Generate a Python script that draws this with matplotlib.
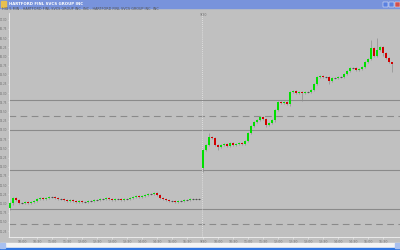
import matplotlib
matplotlib.use("Agg")
import matplotlib.pyplot as plt
from matplotlib.patches import Rectangle

# 5 min style intraday bars, two sessions
day1_open = 11.88
day1_close = [12.01, 12.15, 12.10, 12.01, 12.01, 12.04, 12.01, 12.04, 12.07, 12.12,
              12.15, 12.12, 12.15, 12.18, 12.18, 12.15, 12.12, 12.12, 12.10, 12.07,
              12.10, 12.07, 12.04, 12.07, 12.04, 12.04, 12.07, 12.07, 12.10, 12.10,
              12.12, 12.12, 12.15, 12.12, 12.10, 12.12, 12.12, 12.10, 12.12, 12.12,
              12.15, 12.18, 12.21, 12.18, 12.21, 12.23, 12.26, 12.26, 12.29, 12.23,
              12.15, 12.12, 12.10, 12.07, 12.07, 12.04, 12.07, 12.07, 12.10, 12.10,
              12.12, 12.12, 12.12, 12.12]
day2_open = 12.97
day2_close = [13.46, 13.59, 13.81, 13.78, 13.59, 13.54, 13.59, 13.62, 13.57, 13.65,
              13.59, 13.62, 13.65, 13.62, 13.70, 13.92, 14.11, 14.22, 14.27, 14.35,
              14.30, 14.14, 14.19, 14.27, 14.54, 14.76, 14.73, 14.76, 14.71, 15.03,
              15.06, 15.01, 15.03, 15.01, 15.03, 15.03, 15.09, 15.25, 15.44, 15.47,
              15.44, 15.44, 15.33, 15.41, 15.41, 15.44, 15.44, 15.52, 15.60, 15.69,
              15.69, 15.63, 15.66, 15.71, 15.85, 15.93, 16.23, 16.01, 16.18, 16.26,
              16.09, 15.96, 15.85, 15.79]
# long wicks (bar index -> (high, low)); other bars get a short wick
day1_wicks = {0: (12.04, 11.83), 1: (12.18, 11.96), 48: (12.32, 12.24)}
day2_wicks = {0: (13.48, 12.86), 2: (13.92, 13.56), 5: (13.62, 13.46), 21: (14.32, 14.08),
              24: (14.57, 14.22), 29: (15.06, 14.65), 33: (15.05, 14.80), 42: (15.47, 15.25),
              56: (16.45, 15.90), 58: (16.50, 15.98), 60: (16.28, 16.00), 63: (15.86, 15.57)}

price_ticks = [11.25 + 0.25 * k for k in range(24)]
level_solid = [14.82, 14.00, 12.91, 11.84]
level_dashed = [14.39, 11.43]
time_labels = ["10:00", "10:30", "11:00", "11:30", "12:00", "12:30", "13:00",
               "13:30", "14:00", "14:30", "15:00", "15:30"]
date_label = "9/30"
title = "HARTFORD FINL SVCS GROUP INC"
subtitle = "HIG 5 MIN - HARTFORD FINL SVCS GROUP INC  INC - HARTFORD FINL SVCS GROUP INC  INC"

BG = "#c0c0c0"
GREEN = "#00e000"
RED = "#d00000"

fig = plt.figure(figsize=(4, 2.5), dpi=100, facecolor=BG)

# window chrome
fig.patches.append(Rectangle((0, 242 / 250), 1, 8 / 250, transform=fig.transFigure,
                             color="#7893dc", zorder=0))
fig.patches.append(Rectangle((0.002, 243.5 / 250), 5 / 400, 5 / 250, transform=fig.transFigure,
                             color="#e8c050", zorder=1))
for bx, bc in [(383, "#5a80e0"), (389, "#5a80e0"), (395, "#d05050")]:
    fig.patches.append(Rectangle((bx / 400, 243 / 250), 5 / 400, 5 / 250,
                                 transform=fig.transFigure, color=bc, ec="white", lw=0.3, zorder=1))
fig.text(9 / 400, 246 / 250, title, fontsize=2.8, color="white", weight="bold", va="center")
fig.text(2 / 400, 240.5 / 250, subtitle, fontsize=2.4, color="#505050", va="center")
fig.patches.append(Rectangle((0, 2 / 250), 1, 5 / 250, transform=fig.transFigure,
                             color="#f4f4f4", zorder=0))
fig.patches.append(Rectangle((0, 0), 1, 2 / 250, transform=fig.transFigure,
                             color="#2e74e0", zorder=0))
fig.patches.append(Rectangle((0, 2 / 250), 5 / 400, 5 / 250, transform=fig.transFigure,
                             color="#a8c0f0", zorder=1))
fig.patches.append(Rectangle((395 / 400, 2 / 250), 5 / 400, 5 / 250, transform=fig.transFigure,
                             color="#a8c0f0", zorder=1))

ax = fig.add_axes([9 / 400, 13 / 250, 391 / 400, 224 / 250])
ax.set_facecolor(BG)
ax.set_xlim(0, 130.33)
ax.set_ylim(11.09, 17.18)


def draw_day(x0, first_open, closes, wicks):
    prev = first_open
    for i, c in enumerate(closes):
        o = prev
        x = x0 + i
        hi, lo = wicks.get(i, (max(o, c) + 0.03, min(o, c) - 0.03))
        ax.vlines(x, lo, hi, color="#8e8e8e", lw=0.5, zorder=2)
        if abs(c - o) < 0.005:
            ax.hlines(c, x - 0.35, x + 0.35, color="#404040", lw=0.6, zorder=3)
        else:
            col = GREEN if c > o else RED
            ax.bar(x, abs(c - o), bottom=min(o, c), width=0.7, color=col, lw=0, zorder=3)
        prev = c


draw_day(0.2, day1_open, day1_close, day1_wicks)
draw_day(64.67, day2_open, day2_close, day2_wicks)

for lv in level_solid:
    ax.axhline(lv, color="#8a8a8a", lw=0.8, zorder=1)
for lv in level_dashed:
    ax.axhline(lv, color="#8a8a8a", lw=0.8, ls=(0, (6, 4)), zorder=1)
ax.axvline(64.33, color="#e8e8e8", lw=0.6, ls=(0, (1, 1.5)), zorder=1)

for s in ["top", "right"]:
    ax.spines[s].set_visible(False)
for s in ["left", "bottom"]:
    ax.spines[s].set_color("#f0f0f0")
    ax.spines[s].set_linewidth(0.6)

ax.set_yticks(price_ticks)
ax.set_yticklabels([f"{p:.2f}" for p in price_ticks], fontsize=1.9, color="#707070")
ax.tick_params(axis="y", length=0.8, width=0.4, color="#f0f0f0", pad=0.3)

xt = [4.33 + 5 * k for k in range(12)] + [64.67] + [69.67 + 5 * k for k in range(12)]
xl = time_labels + [date_label] + time_labels
ax.set_xticks(xt)
ax.set_xticklabels(xl, fontsize=2.3, color="#707070")
ax.set_xticks([1.0 * k for k in range(0, 131, 1)], minor=True)
ax.tick_params(axis="x", which="major", length=1.5, width=0.4, color="#f0f0f0", pad=0.8)
ax.tick_params(axis="x", which="minor", length=0.8, width=0.3, color="#f0f0f0")
ax.text(64.67, 17.12, date_label, fontsize=2.3, color="#707070", ha="center", va="center")

fig.savefig("out.png", dpi=100, facecolor=BG)
